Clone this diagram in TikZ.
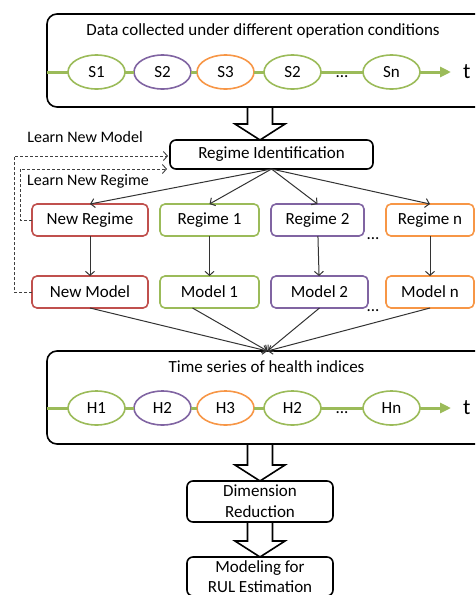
\documentclass[tikz,border=0pt]{standalone}
\usepackage{fontspec}
\setmainfont{Carlito}
\usepackage{tikz}
\usetikzlibrary{shapes.geometric, arrows.meta, positioning, calc}

\definecolor{regred}{HTML}{C0504D}
\definecolor{reggreen}{HTML}{9BBB59}
\definecolor{regpurple}{HTML}{8064A2}
\definecolor{regorange}{HTML}{F79646}

% hollow block arrow between two points
\newcommand{\fatarrow}[2]{%
  \draw[fat] let \p1=#1, \p2=#2 in
    (\x1-12.5pt,\y1) -- (\x1-12.5pt,\y2+16pt) -- (\x1-25pt,\y2+16pt) -- (\x1,\y2)
    -- (\x1+25pt,\y2+16pt) -- (\x1+12.5pt,\y2+16pt) -- (\x1+12.5pt,\y1) -- cycle;}

\begin{document}
\begin{tikzpicture}[
  x=1pt, y=-1pt,
  every node/.style={font={\fontsize{17}{21}\selectfont}, outer sep=0pt},
  bigbox/.style={rectangle, rounded corners=10pt, draw, line width=1.6pt, minimum width=449pt, minimum height=93pt},
  state/.style={ellipse, draw=#1, line width=1.6pt, fill=white, minimum width=57pt, minimum height=34pt, inner sep=0pt},
  regbox/.style={rectangle, rounded corners=5pt, draw=#1, line width=1.6pt, fill=white, minimum height=32pt, inner sep=2pt},
  blk/.style={rectangle, rounded corners=6pt, draw, line width=1.6pt, minimum width=146pt, align=center, inner sep=1pt},
  arr/.style={-{Straight Barb[length=4pt, width=9pt]}, line width=1pt, black!80},
  learnline/.style={dash pattern=on 3pt off 2pt, line width=0.9pt, black!75, -{Straight Barb[length=4pt, width=9pt]}},
  timeline/.style={line width=3pt, reggreen},
  tlabel/.style={font={\fontsize{22}{24}\selectfont}, inner sep=0pt},
  fat/.style={line width=1.6pt, fill=white, line join=miter},
]
\useasboundingbox (0,0) rectangle (475,595);
\clip (0,0) rectangle (475,595);

% Data box
\node[bigbox, anchor=north west] (databox) at (47,14) {};
\node (datatitle) at ($(databox.north)+(-8.5,17)$) {Data collected under different operation conditions};
\node[state=reggreen] (s1) at ($(databox.north west)+(49.5,58)$) {S1};
\node[state=regpurple, right=9pt of s1] (s2) {S2};
\node[state=regorange, right=6pt of s2] (s3) {S3};
\node[state=reggreen, right=10pt of s3] (s4) {S2};
\node[state=reggreen, right=42pt of s4] (sn) {Sn};
\node (sdots) at ($(s4.east)!0.5!(sn.west)+(0,5)$) {...};
\node[tlabel, right=43pt of sn] (t1) {t};
\draw[timeline] (databox.west |- s1) -- (s1) -- (s2) -- (s3) -- (s4) -- (sn);
\draw[timeline, -{Triangle[length=11pt, width=10pt]}, shorten >=12pt] (sn) -- (t1);

% Regime identification
\node[blk, minimum width=203pt, minimum height=29pt, below=33pt of databox] (regid) {Regime Identification};

% Regimes
\node[regbox=regred, minimum width=116pt, below left=35pt and 22pt of regid] (newreg) {New Regime};
\node[regbox=reggreen, minimum width=99pt, right=12pt of newreg] (reg1) {Regime 1};
\node[regbox=regpurple, minimum width=93pt, right=12pt of reg1] (reg2) {Regime 2};
\node[regbox=regorange, minimum width=88pt, right=22pt of reg2] (regn) {Regime n};
\node (rdots) at ($(reg2.east)!0.5!(regn.west)+(-2,19)$) {...};

% Models
\node[regbox=regred, minimum width=116pt, below=40pt of newreg] (newmod) {New Model};
\node[regbox=reggreen, minimum width=99pt, right=12pt of newmod] (mod1) {Model 1};
\node[regbox=regpurple, minimum width=97pt, right=12pt of mod1] (mod2) {Model 2};
\node[regbox=regorange, minimum width=88pt, right=18pt of mod2] (modn) {Model n};
\node (mdots) at ($(mod2.east)!0.5!(modn.west)+(-4,19)$) {...};

% Learning loops
\node[font={\fontsize{16}{19}\selectfont}] (learnmod) at (85,137) {Learn New Model};
\node[font={\fontsize{16}{19}\selectfont}] (learnreg) at (88,181) {Learn New Regime};
\draw[learnline] (newmod.west) -- ++(-18,0) |- ($(regid.west)+(-2,1.5)$);
\draw[learnline] (newreg.west) -- ++(-12,0) |- ($(regid.south west)+(-3,0)$);

% Health indices box
\node[bigbox, below=244pt of databox] (healthbox) {};
\node (healthtitle) at ($(healthbox.north)+(-5,16)$) {Time series of health indices};
\node[state=reggreen] (h1) at ($(healthbox.north west)+(49.5,57)$) {H1};
\node[state=regpurple, right=9pt of h1] (h2) {H2};
\node[state=regorange, right=6pt of h2] (h3) {H3};
\node[state=reggreen, right=10pt of h3] (h4) {H2};
\node[state=reggreen, right=42pt of h4] (hn) {Hn};
\node (hdots) at ($(h4.east)!0.5!(hn.west)+(0,5)$) {...};
\node[tlabel, right=43pt of hn] (t2) {t};
\draw[timeline] (healthbox.west |- h1) -- (h1) -- (h2) -- (h3) -- (h4) -- (hn);
\draw[timeline, -{Triangle[length=11pt, width=10pt]}, shorten >=12pt] (hn) -- (t2);

% Arrows
\coordinate (hin) at ($(healthbox.north)+(-4,0)$);
\draw[arr] (regid.south) -- (newreg.north);
\draw[arr] (regid.south) -- (reg1.north);
\draw[arr] (regid.south) -- (reg2.north);
\draw[arr] (regid.south) -- (regn.north);
\draw[arr] (newreg) -- (newmod);
\draw[arr] (reg1) -- (mod1);
\draw[arr] (reg2) -- (mod2);
\draw[arr] (regn) -- (modn);
\draw[arr] (newmod.south) -- (hin);
\draw[arr] ($(mod1.south)+(-17,0)$) -- (hin);
\draw[arr] (mod2.south) -- (hin);
\draw[arr] (modn.south) -- (hin);

% Lower steps
\node[blk, minimum height=41pt, below=37pt of healthbox, xshift=-11.5pt] (dimred) {Dimension\\Reduction};
\node[blk, font={\fontsize{17}{20}\selectfont}, minimum height=39pt, below=35pt of dimred] (rulest) {Modeling for\\RUL Estimation};

\fatarrow{(dimred.north |- databox.south)}{(dimred.north |- regid.north)}
\fatarrow{(dimred.north |- healthbox.south)}{(dimred.north)}
\fatarrow{(dimred.south)}{(rulest.north)}

\end{tikzpicture}
\end{document}
